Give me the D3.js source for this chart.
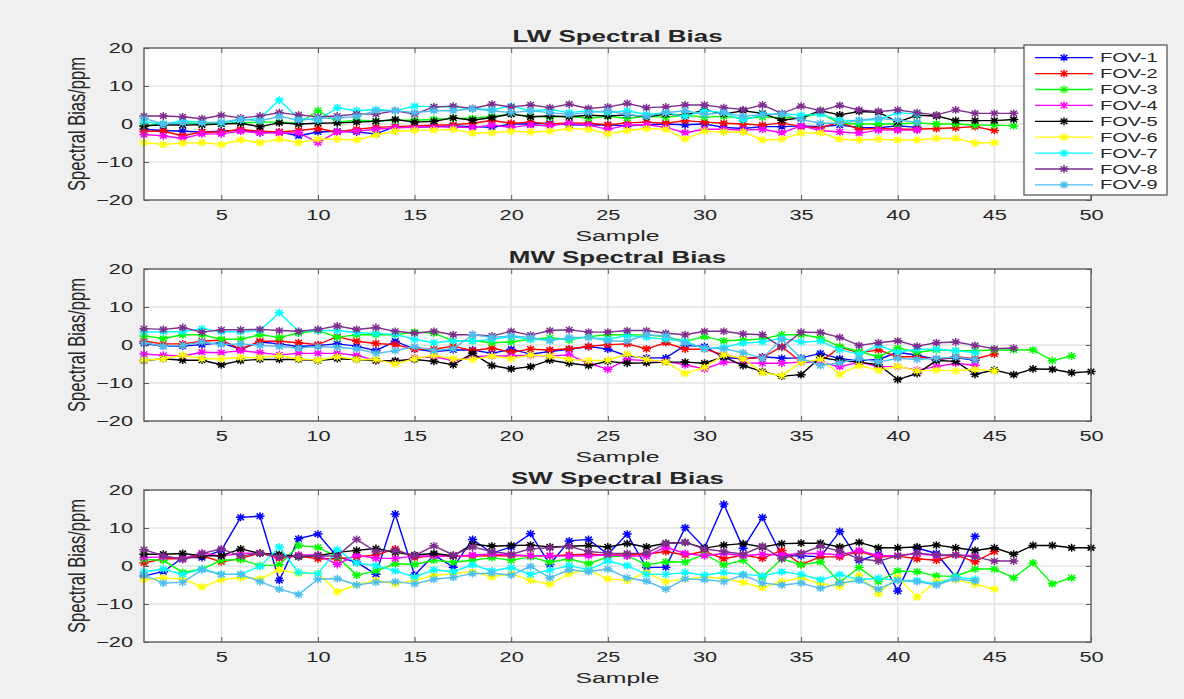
<!DOCTYPE html>
<html>
<head>
<meta charset="utf-8">
<script src="https://cdn.jsdelivr.net/npm/d3@7"></script>
<style>
  html, body { margin: 0; padding: 0; background: #f0f0f0; }
  svg { display: block; }
  text { font-family: "Liberation Sans", Arial, Helvetica, sans-serif; fill: #262626; }
</style>
</head>
<body>
<svg id="chart" width="1184" height="699"></svg>
<script>
// ---- data: spectral bias (ppm) per sample, one array per band and FOV ----
const fovNames = ["FOV-1", "FOV-2", "FOV-3", "FOV-4", "FOV-5", "FOV-6", "FOV-7", "FOV-8", "FOV-9"];
const fovColors = ["#0000ff", "#ff0000", "#00ff00", "#ff00ff", "#000000", "#ffff00", "#00ffff", "#7e2f8e", "#4dbeee"];
const bandTitles = ["LW Spectral Bias", "MW Spectral Bias", "SW Spectral Bias"];
const xTickValues = [5, 10, 15, 20, 25, 30, 35, 40, 45, 50];
const yTickValues = [-20, -10, 0, 10, 20];

const lwFov1 = [-1.4,-1.7,-1.9,-2.1,-1.9,-1.6,-2.3,-2.1,-3.1,-2.1,-1.9,-2.1,-2.6,-0.7,-0.9,-0.7,-0.5,-0.7,-0.9,0,0,0.2,-0.2,-0.3,-0.2,-0.5,-0.2,0,-0.2,0,-0.9,-1.2,-0.7,-0.7,-0.5,-0.7,-0.3,-0.9,-1.0,-0.5,-0.9];
const lwFov2 = [-1.9,-1.9,-3.1,-2.1,-2.1,-1.4,-1.9,-2.1,-1.7,-1.2,-2.1,-1.4,-0.9,-0.7,-0.5,-0.3,-0.2,0.2,0.9,0.2,0.5,0,0.3,0.2,-0.2,0.3,0.5,0.2,0.9,0.5,0.2,0,-0.3,0.3,-0.7,-1.0,0.5,-1.4,-1.2,-1.4,-1.4,-1.2,-1.0,-0.7,-1.7];
const lwFov3 = [-0.5,0,0.3,0,0.2,0.3,0.5,0.5,0.2,3.5,0.5,1.0,0.8,1.0,1.0,1.2,1.5,1.5,2.0,2.6,2.0,1.8,2.0,1.5,2.0,1.5,2.0,1.8,2.3,1.8,2.0,1.5,1.8,1.7,1.6,2.8,0.2,0,0,0,0.3,0,0,-0.3,-0.3,-0.5];
const lwFov4 = [-2.8,-3.1,-3.8,-2.6,-2.6,-1.9,-2.3,-2.4,-2.3,-4.9,-2.1,-1.9,-1.4,-1.0,-0.9,-0.7,-0.9,-0.9,-0.3,-0.9,-0.3,-0.5,0.2,-0.3,-1.4,-0.3,-0.2,-0.9,-2.3,-1.4,-1.4,-1.6,-1.4,-2.3,-0.5,-1.7,-2.1,-2.4,-1.6,-1.6,-1.6];
const lwFov5 = [-0.5,-0.2,-0.3,-0.2,0,0.2,-0.7,0.3,0,0.2,0.3,0.5,0.7,1.2,0.5,0.7,1.6,1.0,1.7,2.6,1.9,2.1,1.9,2.3,2.1,2.4,1.9,2.6,2.3,3.7,2.6,3.5,2.8,1.0,1.6,3.5,2.4,3.3,3.1,0.5,2.3,2.1,0.9,0.9,0.9,1.2];
const lwFov6 = [-4.9,-5.4,-5.0,-4.9,-5.4,-4.2,-4.9,-4.0,-4.9,-4.0,-4.0,-4.2,-2.9,-1.9,-1.7,-1.6,-1.4,-2.4,-2.3,-1.9,-2.1,-1.9,-1.2,-1.4,-2.6,-1.7,-1.2,-1.4,-4.0,-1.9,-2.1,-2.1,-4.2,-4.0,-2.4,-2.3,-4.0,-4.2,-4.0,-4.2,-4.2,-3.8,-3.8,-5.0,-4.9];
const lwFov7 = [0.5,0,0.8,0.5,0.3,1.0,1.5,6.3,1.5,1.0,4.3,3.5,3.8,3.5,4.7,4.5,4.5,4.0,3.8,4.7,3.5,3.8,3.0,3.5,3.0,3.5,2.5,3.0,2.0,3.5,3.0,1.0,2.5,2.8,2.3,2.6,1.0,0.9,1.2,3.0,2.6];
const lwFov8 = [2.1,2.1,1.9,1.4,2.3,1.6,2.1,3.0,2.4,1.9,2.1,2.6,2.6,3.5,2.6,4.5,4.7,4.1,5.2,4.5,5.0,4.3,5.2,4.1,4.5,5.4,4.3,4.5,5.0,5.0,4.3,3.8,5.0,2.8,4.7,3.5,4.9,3.7,3.3,3.7,3.0,2.4,3.7,2.8,2.8,2.8];
const lwFov9 = [1.5,0,0.3,0.3,0.5,1.3,0.8,2.0,1.0,1.5,1.5,2.0,3.5,3.5,3.0,3.5,3.5,4.0,3.5,3.0,3.5,3.0,2.5,3.0,3.5,2.5,2.0,3.0,3.5,2.5,3.0,2.0,2.5,2.6,1.2,0.2,0.2,1.0,1.5,1.0,0.5];

const mwFov1 = [0.4,-0.3,-0.3,0.1,0.6,-1.1,0.8,0.3,-0.4,-0.1,0.3,-0.3,-1.5,1.0,-1.1,-1.7,-1.3,-1.3,-2.2,-1.1,-2.4,-1.7,-1.1,-0.4,-1.1,-2.9,-3.4,-3.4,-0.1,-0.4,-3.3,-3.6,-3.1,-3.5,-3.4,-2.2,-3.6,-4.1,-3.8,-1.9,-2.7,-3.8,-3.3,-4.0];
const mwFov2 = [1.0,0.3,0.3,1.0,1.3,-1.1,1.0,1.0,0.6,0.1,2.2,1.0,0.4,0.1,-1.1,-1.1,-0.3,-1.5,-0.8,-1.9,-1.1,-1.3,-1.0,-0.4,0.1,0.3,-1.0,0.6,-1.1,-1.1,-2.6,-3.6,-3.3,-0.4,-4.5,-4.5,-0.6,-2.0,-1.3,-3.1,-3.1,-3.8,-3.1,-3.6,-2.4];
const mwFov3 = [2.4,1.7,2.7,2.7,1.5,1.5,2.7,2.0,3.1,3.8,2.0,2.7,2.7,2.7,3.4,3.1,1.1,1.1,0.6,0.8,1.5,1.9,1.3,2.2,2.7,2.7,2.6,2.2,1.0,2.2,1.1,1.3,1.6,2.7,2.7,1.9,-0.4,-1.7,-3.1,-0.8,-1.9,-1.3,-1.5,-1.5,-1.3,-1.3,-1.3,-4.1,-2.9];
const mwFov4 = [-2.4,-2.7,-2.9,-1.9,-2.0,-1.5,-2.0,-2.6,-2.2,-2.2,-2.2,-2.7,-4.1,-4.5,-3.4,-3.1,-4.1,-3.1,-2.9,-2.9,-2.7,-2.9,-2.6,-4.8,-6.4,-3.8,-4.1,-4.3,-5.2,-6.3,-4.5,-4.7,-4.8,-4.8,-4.5,-4.5,-5.7,-4.5,-5.7,-5.7,-6.6,-5.7,-4.8,-5.4];
const mwFov5 = [-4.1,-3.6,-4.0,-4.0,-5.2,-4.1,-3.8,-3.8,-3.8,-4.1,-3.6,-3.8,-4.1,-4.1,-3.8,-4.3,-5.2,-2.2,-5.4,-6.3,-5.7,-4.0,-4.8,-5.4,-4.3,-4.8,-4.7,-4.5,-4.5,-4.8,-3.1,-5.4,-7.0,-8.2,-7.8,-3.3,-4.1,-4.5,-5.2,-9.1,-7.5,-4.1,-4.3,-7.7,-6.6,-7.8,-6.3,-6.4,-7.3,-7.0];
const mwFov6 = [-4.0,-3.6,-2.7,-3.6,-3.6,-3.3,-3.3,-2.9,-3.6,-4.0,-3.1,-3.8,-3.8,-5.0,-3.6,-2.7,-3.6,-3.8,-2.9,-3.6,-2.6,-2.9,-3.8,-4.1,-4.0,-2.4,-3.8,-4.5,-7.5,-5.9,-2.6,-3.6,-7.3,-8.0,-4.5,-3.8,-7.7,-5.4,-6.6,-5.6,-6.8,-6.6,-6.8,-6.4,-6.8];
const mwFov7 = [3.4,3.5,3.5,4.3,3.5,3.5,3.8,8.5,3.6,3.8,3.8,3.3,3.0,2.8,1.5,0.6,1.1,1.0,1.5,2.2,1.5,1.3,1.7,2.0,1.5,2.5,2.0,1.5,1.0,-1.0,-0.6,0.5,0.8,1.8,0.8,1.0,-1.3,-2.4,-0.1,-1.9,-1.1,-1.1,-1.5,-2.0];
const mwFov8 = [4.3,4.1,4.6,3.4,4.0,4.0,4.1,3.8,3.6,4.1,5.0,4.1,4.6,3.6,3.1,3.6,2.7,2.7,2.4,3.6,2.6,3.8,4.0,3.4,3.4,3.8,3.8,3.1,2.7,3.6,3.6,2.9,2.7,-0.6,3.4,3.3,2.0,-0.1,0.6,1.1,-0.3,0.6,0.8,-0.1,-1.0,-0.8];
const mwFov9 = [0.6,-0.3,-0.1,0.8,0.1,0.3,-0.1,-0.4,-0.8,-0.4,-0.6,-1.0,-2.2,-1.5,-0.4,-1.5,-1.0,2.7,2.0,2.4,2.0,1.1,2.0,2.0,1.1,1.0,2.7,2.4,0.5,-0.8,-1.0,-2.0,-3.5,1.5,-3.5,-5.4,-4.7,-3.6,-4.5,-3.5,-3.8,-3.5,-3.2,-3.8];

const swFov1 = [-2.6,-1.5,2.2,2.2,4.1,12.8,13.1,-3.8,7.2,8.4,2.4,1.0,-2.2,13.7,-2.4,2.9,-0.3,7.0,3.4,5.0,8.5,0.4,6.6,7.0,3.1,8.4,-0.4,-0.3,10.1,4.8,16.3,4.7,12.8,2.7,2.7,2.4,9.1,1.5,3.1,-6.6,4.7,3.3,-2.9,7.8];
const swFov2 = [0.8,1.9,1.9,2.7,1.1,2.0,3.4,2.0,2.6,1.9,1.9,2.4,2.9,4.5,2.2,2.6,2.6,2.6,2.7,2.7,2.7,2.7,2.9,3.1,2.9,2.9,3.1,3.8,2.9,3.8,1.9,2.9,2.0,4.1,0.4,2.4,2.4,3.8,2.4,2.6,1.9,1.5,2.9,1.1,3.8];
const swFov3 = [1.7,1.5,-1.7,-0.8,1.5,1.7,0.1,0.3,5.4,4.9,2.4,-2.4,-1.3,0.6,0.4,1.5,1.0,1.5,2.2,1.5,2.4,1.0,1.9,0.6,2.4,2.7,0.3,1.1,1.0,3.1,0.3,1.5,-2.9,1.9,0.3,1.1,-4.3,-0.4,-4.1,-1.3,-1.5,-2.6,-2.7,-0.8,-0.8,-3.1,0.8,-4.7,-3.1];
const swFov4 = [2.2,2.4,2.0,3.4,2.6,3.3,3.4,2.4,2.9,2.9,0.4,2.9,2.0,2.0,2.6,2.7,2.6,2.9,3.1,2.9,2.7,2.7,2.6,2.7,2.9,2.6,2.6,5.0,3.3,2.7,3.3,2.7,3.1,2.9,3.3,3.3,2.9,4.1,2.7,2.7,3.3,2.7,2.9,2.7];
const swFov5 = [3.1,3.1,3.3,2.7,2.7,4.5,3.3,3.1,2.4,2.7,3.6,4.1,4.6,3.6,2.9,3.3,2.7,5.7,5.2,5.4,5.5,5.0,5.2,5.4,5.0,5.9,5.0,6.0,6.2,4.7,5.5,5.9,5.0,5.9,6.0,6.0,5.0,6.2,4.8,4.8,5.0,5.5,4.8,4.1,4.8,3.1,5.4,5.4,4.8,4.8];
const swFov6 = [-3.6,-3.1,-3.4,-5.5,-3.6,-3.1,-3.4,-1.0,-2.0,-1.9,-6.8,-5.0,-3.8,-4.7,-3.8,-2.5,-2.0,-1.5,-2.9,-2.0,-3.8,-4.8,-2.0,-1.1,-3.4,-3.8,-1.7,-4.1,-3.4,-2.9,-3.3,-4.3,-5.7,-4.1,-3.1,-4.7,-5.4,-2.5,-7.3,-2.9,-8.2,-4.0,-3.6,-4.8,-6.1];
const swFov7 = [-1.5,-0.8,-2.2,-0.8,-2.2,-2.2,-0.1,5.0,-1.7,-2.0,4.3,0.8,0.1,-1.3,-2.9,-1.0,-1.5,0.3,-1.3,-0.4,-2.2,-1.1,0.1,-1.0,1.3,0.1,-2.2,-2.2,-1.7,-2.4,-1.7,-2.2,-2.6,-1.5,-2.2,-3.6,-2.2,-3.6,-3.2,-3.8,-3.8,-4.8,-2.9,-3.5];
const swFov8 = [4.3,2.7,1.7,3.3,4.5,2.6,3.4,2.4,2.6,2.7,2.6,7.0,3.8,4.1,2.7,5.3,2.9,5.0,3.8,3.1,4.5,4.8,5.2,3.8,3.4,3.3,3.4,5.9,6.2,4.5,3.8,3.1,5.2,1.9,3.3,5.2,3.9,1.9,1.3,2.7,3.4,2.9,2.9,2.4,1.3,1.3];
const swFov9 = [-2.4,-4.5,-4.3,-1.0,-2.2,-2.2,-4.1,-6.1,-7.5,-3.5,-3.3,-5.0,-4.3,-4.1,-4.7,-3.5,-3.0,-2.0,-1.9,-2.4,-0.1,-3.1,-1.0,-1.5,-0.8,-3.1,-4.0,-6.1,-3.4,-3.6,-4.1,-2.4,-4.5,-5.0,-4.5,-5.9,-4.5,-3.8,-6.1,-3.8,-4.1,-5.0,-3.4,-4.0];

const bandSeries = [
  [lwFov1, lwFov2, lwFov3, lwFov4, lwFov5, lwFov6, lwFov7, lwFov8, lwFov9],
  [mwFov1, mwFov2, mwFov3, mwFov4, mwFov5, mwFov6, mwFov7, mwFov8, mwFov9],
  [swFov1, swFov2, swFov3, swFov4, swFov5, swFov6, swFov7, swFov8, swFov9]
];

// ---- layout ----
const svg = d3.select("#chart");
const plotLeft = 144, plotRight = 1091;
const panelTops = [48, 269, 490];
const panelHeight = 152;
const axisColor = "#5a5a5a";
const gridColor = "#e3e3e3";
const textColor = "#303030";
// the figure is rendered wide: glyphs are stretched horizontally
const tickStretch = 1.5;

const x = d3.scaleLinear().domain([1, 50]).range([plotLeft, plotRight]);

// MATLAB-style asterisk marker ("*"): plus plus cross, slightly wide
function asteriskPath(rx, ry) {
  const dx = rx * 0.72, dy = ry * 0.72;
  return `M${-rx},0L${rx},0M0,${-ry}L0,${ry}M${-dx},${-dy}L${dx},${dy}M${-dx},${dy}L${dx},${-dy}`;
}
const markerD = asteriskPath(4.6, 3.9);

// horizontally stretched text placed at (px, py)
function wideText(parent, px, py, sx, str) {
  return parent.append("text")
    .attr("transform", `translate(${px},${py}) scale(${sx},1)`)
    .text(str);
}

bandSeries.forEach((seriesList, b) => {
  const top = panelTops[b];
  const bottom = top + panelHeight;
  const y = d3.scaleLinear().domain([-20, 20]).range([bottom, top]);
  const g = svg.append("g");

  // plot face
  g.append("rect")
    .attr("x", plotLeft).attr("y", top)
    .attr("width", plotRight - plotLeft).attr("height", panelHeight)
    .attr("fill", "#ffffff");

  // grid
  g.append("g").selectAll("line").data(xTickValues.filter(v => v < 50)).join("line")
    .attr("x1", d => x(d)).attr("x2", d => x(d))
    .attr("y1", top).attr("y2", bottom)
    .attr("stroke", gridColor).attr("stroke-width", 1.4);
  g.append("g").selectAll("line").data(yTickValues.filter(v => v > -20 && v < 20)).join("line")
    .attr("x1", plotLeft).attr("x2", plotRight)
    .attr("y1", d => y(d)).attr("y2", d => y(d))
    .attr("stroke", gridColor).attr("stroke-width", 1.4);

  // series: lines and asterisk markers
  const line = d3.line().x((d, i) => x(i + 1)).y(d => y(d));
  seriesList.forEach((vals, s) => {
    const sg = g.append("g");
    sg.append("path")
      .attr("d", line(vals))
      .attr("fill", "none")
      .attr("stroke", fovColors[s])
      .attr("stroke-width", 1.4);
    sg.selectAll("path.m").data(vals).join("path")
      .attr("class", "m")
      .attr("transform", (d, i) => `translate(${x(i + 1)},${y(d)})`)
      .attr("d", markerD)
      .attr("stroke", fovColors[s])
      .attr("stroke-width", 1.5)
      .attr("fill", "none");
  });

  // axes with inward ticks on all sides (box on)
  const tickLen = 5;
  g.append("g").attr("transform", `translate(0,${bottom})`)
    .call(d3.axisBottom(x).tickValues(xTickValues).tickSize(-tickLen).tickPadding(10).tickFormat(d3.format("d")))
    .call(a => a.select(".domain").remove())
    .call(a => a.selectAll("line").attr("stroke", axisColor))
    .call(a => a.selectAll("text")
      .attr("font-size", 14.5).attr("fill", textColor)
      .attr("transform", `scale(${tickStretch},1)`)
      .style("font-family", "Liberation Sans, Arial, sans-serif"));
  g.append("g").attr("transform", `translate(0,${top})`)
    .call(d3.axisTop(x).tickValues(xTickValues).tickSize(-tickLen).tickFormat(""))
    .call(a => a.select(".domain").remove())
    .call(a => a.selectAll("line").attr("stroke", axisColor));
  g.append("g").attr("transform", `translate(${plotLeft},0)`)
    .call(d3.axisLeft(y).tickValues(yTickValues).tickSize(-tickLen).tickFormat(d3.format("d")))
    .call(a => a.select(".domain").remove())
    .call(a => a.selectAll("line").attr("stroke", axisColor))
    .call(a => a.selectAll("text")
      .attr("x", -11 / tickStretch)
      .attr("font-size", 14.5).attr("fill", textColor)
      .attr("transform", `scale(${tickStretch},1)`)
      .style("font-family", "Liberation Sans, Arial, sans-serif"));
  g.append("g").attr("transform", `translate(${plotRight},0)`)
    .call(d3.axisRight(y).tickValues(yTickValues).tickSize(-tickLen).tickFormat(""))
    .call(a => a.select(".domain").remove())
    .call(a => a.selectAll("line").attr("stroke", axisColor));

  g.append("rect")
    .attr("x", plotLeft).attr("y", top)
    .attr("width", plotRight - plotLeft).attr("height", panelHeight)
    .attr("fill", "none").attr("stroke", axisColor).attr("stroke-width", 1.4);

  // title and axis labels
  wideText(g, (plotLeft + plotRight) / 2, top - 6, 1.62, bandTitles[b])
    .attr("text-anchor", "middle")
    .attr("font-size", 16).attr("font-weight", "bold")
    .attr("fill", "#1a1a1a");
  wideText(g, (plotLeft + plotRight) / 2, bottom + 40.5, 1.6, "Sample")
    .attr("text-anchor", "middle")
    .attr("font-size", 15.5).attr("fill", textColor);
  g.append("text")
    .attr("transform", `translate(${85},${(top + bottom) / 2}) rotate(-90) scale(1,1.4)`)
    .attr("text-anchor", "middle")
    .attr("font-size", 16.5).attr("fill", textColor)
    .text("Spectral Bias/ppm");
});

// ---- legend (top panel, right side) ----
const legend = svg.append("g");
const legX = 1024, legY = 45, legW = 143, legH = 150, rowH = 15.9;
legend.append("rect")
  .attr("x", legX).attr("y", legY).attr("width", legW).attr("height", legH)
  .attr("fill", "#ffffff").attr("stroke", axisColor).attr("stroke-width", 1.3);
fovNames.forEach((name, i) => {
  const cy = legY + 12.7 + i * rowH;
  legend.append("line")
    .attr("x1", legX + 11).attr("x2", legX + 69)
    .attr("y1", cy).attr("y2", cy)
    .attr("stroke", fovColors[i]).attr("stroke-width", 1.3);
  legend.append("path")
    .attr("transform", `translate(${legX + 40},${cy})`)
    .attr("d", markerD)
    .attr("stroke", fovColors[i]).attr("stroke-width", 1.4).attr("fill", "none");
  wideText(legend, legX + 76, cy + 4.5, 1.6, name)
    .attr("font-size", 12.5).attr("fill", textColor);
});
</script>
</body>
</html>
